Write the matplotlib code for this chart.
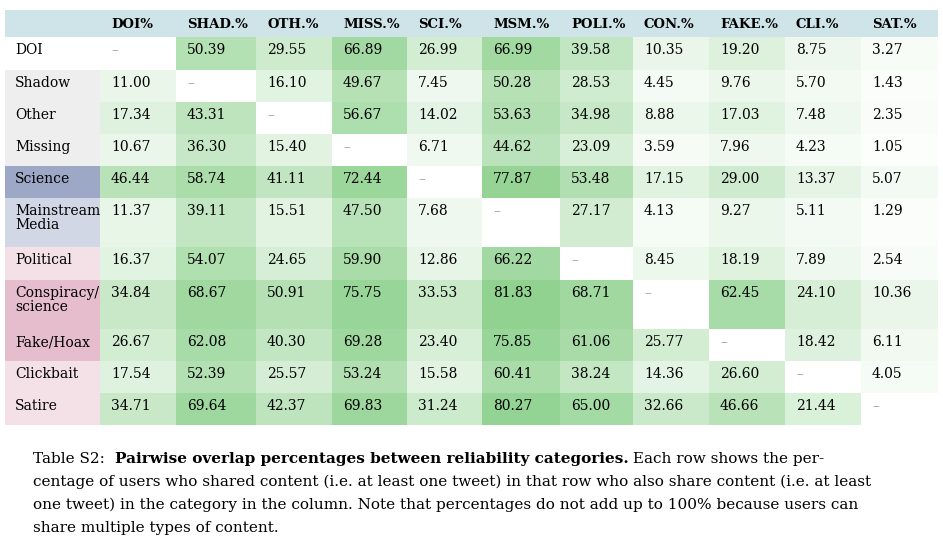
import numpy as np
import matplotlib.pyplot as plt
from matplotlib.patches import Rectangle

col_labels = ["DOI%", "SHAD.%", "OTH.%", "MISS.%", "SCI.%", "MSM.%", "POLI.%",
              "CON.%", "FAKE.%", "CLI.%", "SAT.%"]
row_labels = ["DOI", "Shadow", "Other", "Missing", "Science", "Mainstream\nMedia",
              "Political", "Conspiracy/\nscience", "Fake/Hoax", "Clickbait", "Satire"]
row_colors = ["#ffffff", "#eeeeef", "#eeeeef", "#eeeeef", "#9ca8c6", "#d2d7e6",
              "#f4e1e8", "#e5bdcc", "#e5bdcc", "#f4e1e8", "#f4e1e8"]

nan = np.nan
values = np.array([
    [nan, 50.39, 29.55, 66.89, 26.99, 66.99, 39.58, 10.35, 19.20, 8.75, 3.27],
    [11.00, nan, 16.10, 49.67, 7.45, 50.28, 28.53, 4.45, 9.76, 5.70, 1.43],
    [17.34, 43.31, nan, 56.67, 14.02, 53.63, 34.98, 8.88, 17.03, 7.48, 2.35],
    [10.67, 36.30, 15.40, nan, 6.71, 44.62, 23.09, 3.59, 7.96, 4.23, 1.05],
    [46.44, 58.74, 41.11, 72.44, nan, 77.87, 53.48, 17.15, 29.00, 13.37, 5.07],
    [11.37, 39.11, 15.51, 47.50, 7.68, nan, 27.17, 4.13, 9.27, 5.11, 1.29],
    [16.37, 54.07, 24.65, 59.90, 12.86, 66.22, nan, 8.45, 18.19, 7.89, 2.54],
    [34.84, 68.67, 50.91, 75.75, 33.53, 81.83, 68.71, nan, 62.45, 24.10, 10.36],
    [26.67, 62.08, 40.30, 69.28, 23.40, 75.85, 61.06, 25.77, nan, 18.42, 6.11],
    [17.54, 52.39, 25.57, 53.24, 15.58, 60.41, 38.24, 14.36, 26.60, nan, 4.05],
    [34.71, 69.64, 42.37, 69.83, 31.24, 80.27, 65.00, 32.66, 46.66, 21.44, nan],
])

col_edges = [5, 100, 176, 256, 332, 407, 482, 560, 633, 709, 785, 861, 938]
row_edges = [37, 70, 102, 134, 166, 198, 247, 280, 329, 361, 393, 425]

def cell_color(v):
    if np.isnan(v):
        return (1, 1, 1)
    t = min(v / 82.0, 1.0) ** 0.8
    lo = np.array([1.0, 1.0, 1.0])
    hi = np.array([145, 210, 145]) / 255
    return tuple(lo + (hi - lo) * t)

plt.rcParams["font.family"] = "DejaVu Serif"
fig = plt.figure(figsize=(9.43, 5.41), dpi=100)
ax = fig.add_axes([0, 0, 1, 1])
ax.set_xlim(0, 943)
ax.set_ylim(541, 0)
ax.axis("off")

# header
ax.add_patch(Rectangle((col_edges[0], 10), col_edges[-1] - col_edges[0], 27,
                       color="#cfe4e9", lw=0))
for j, lab in enumerate(col_labels):
    ax.text(col_edges[j + 1] + 11, 24, lab, fontsize=9.5, fontweight="bold",
            va="center", ha="left")

for i, lab in enumerate(row_labels):
    y0, y1 = row_edges[i], row_edges[i + 1]
    ax.add_patch(Rectangle((col_edges[0], y0), col_edges[1] - col_edges[0], y1 - y0,
                           color=row_colors[i], lw=0))
    ax.text(15, y0 + 6, lab, fontsize=10, va="top", ha="left", linespacing=1.0)
    for j in range(len(col_labels)):
        v = values[i, j]
        x0, x1 = col_edges[j + 1], col_edges[j + 2]
        ax.add_patch(Rectangle((x0, y0), x1 - x0, y1 - y0, color=cell_color(v), lw=0))
        txt = "–" if np.isnan(v) else f"{v:.2f}"
        ax.text(x0 + 11, y0 + 6, txt, fontsize=10, va="top", ha="left",
                color="#999999" if np.isnan(v) else "black")

caption = [
    ("Table S2:  ", False), ("Pairwise overlap percentages between reliability categories.", True),
    (" Each row shows the per-", False),
]
x = 33
y = 459
for s, b in caption:
    t = ax.text(x, y, s, fontsize=11, fontweight="bold" if b else "normal", va="center")
    fig.canvas.draw()
    bb = t.get_window_extent()
    x += bb.width
lines = [
    "centage of users who shared content (i.e. at least one tweet) in that row who also share content (i.e. at least",
    "one tweet) in the category in the column. Note that percentages do not add up to 100% because users can",
    "share multiple types of content.",
]
for k, l in enumerate(lines):
    ax.text(33, 482 + k * 23, l, fontsize=11, va="center")

fig.savefig("out.png", dpi=100)
